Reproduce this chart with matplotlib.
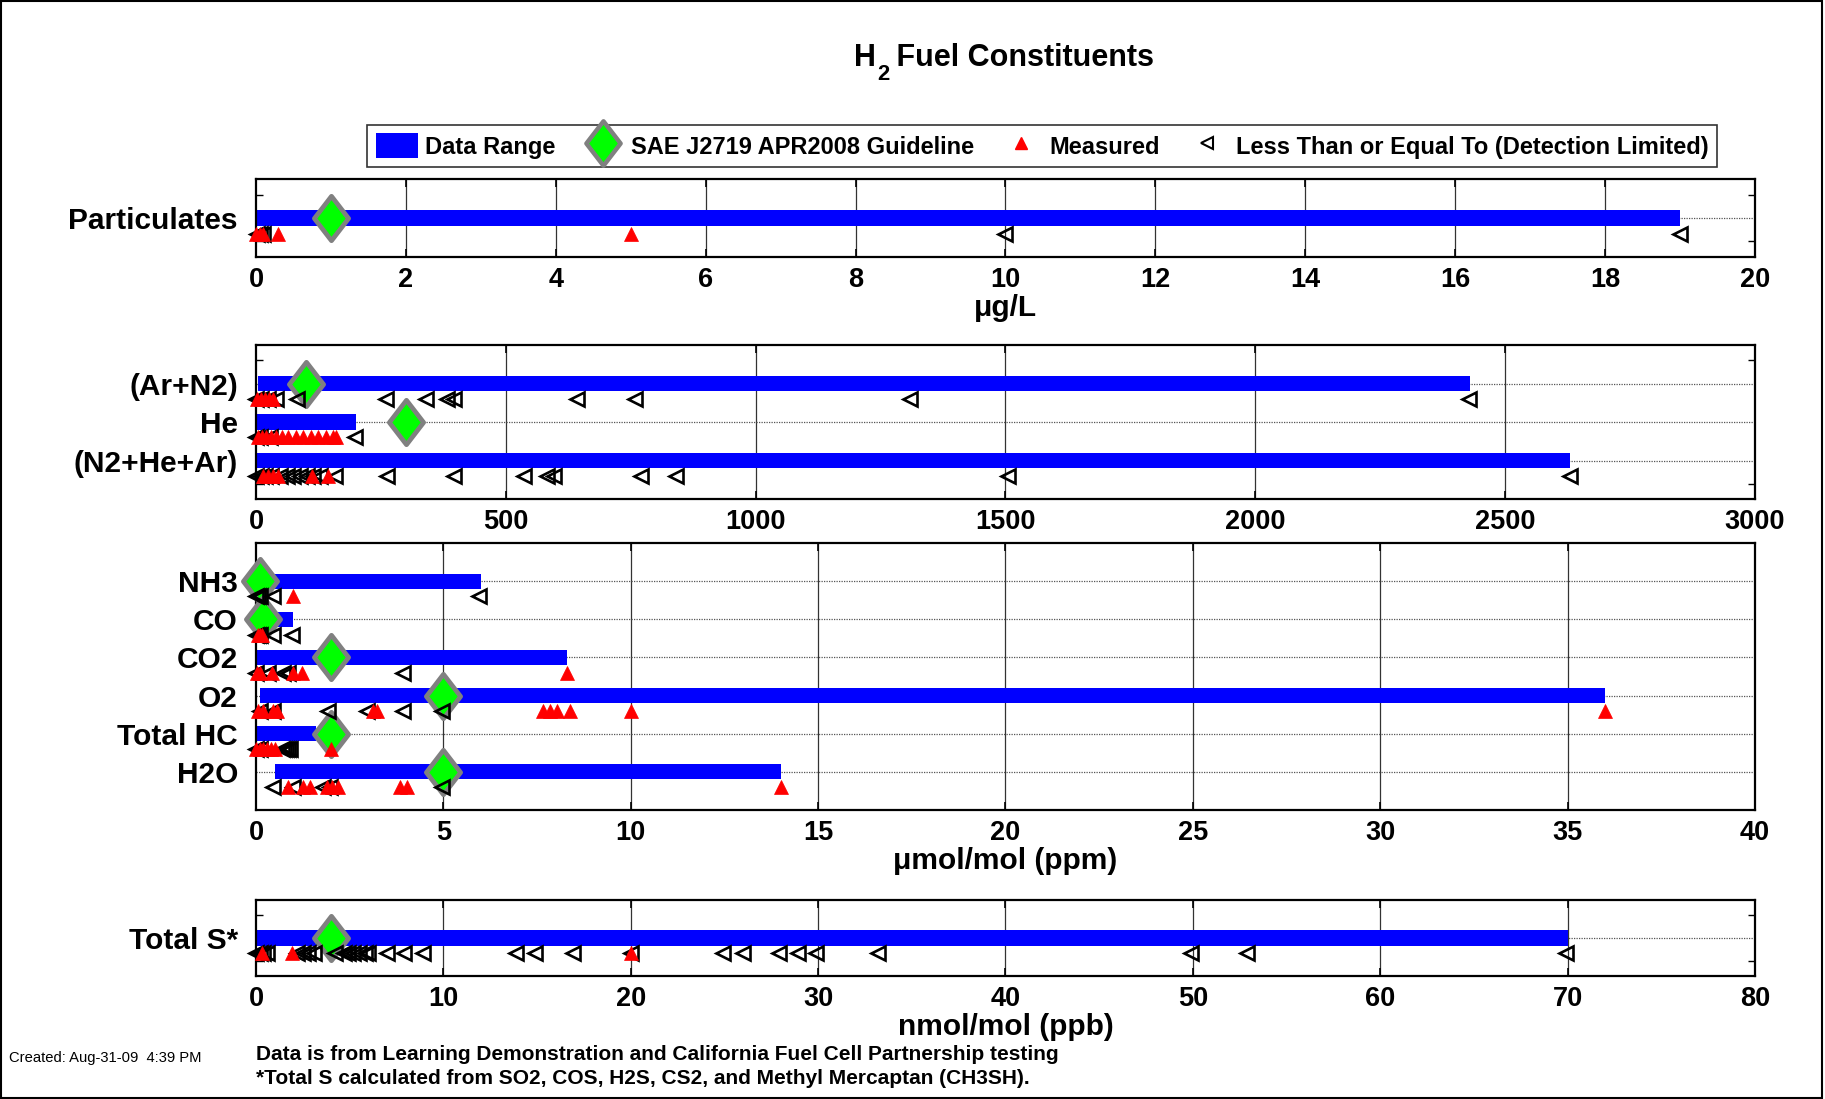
import numpy as np
import matplotlib
matplotlib.use("Agg")
import matplotlib.pyplot as plt
from matplotlib.lines import Line2D
from matplotlib.patches import Patch, Rectangle
from matplotlib.path import Path

plt.rcParams['font.family'] = ['Liberation Sans', 'DejaVu Sans']

# ---------------- data ----------------
part_cats = ['Particulates']
part_lo = [0.0]
part_hi = [19.0]
part_guide = [1.0]
part_meas = [[0.0, 0.05, 0.1, 0.3, 5.0]]
part_lt = [[0.02, 0.06, 0.1, 10.0, 19.0]]

inert_cats = ['(Ar+N2)', 'He', '(N2+He+Ar)']
inert_lo = [5, 0, 0]
inert_hi = [2430, 200, 2630]
inert_guide = [100, 300, np.nan]
inert_meas = [[2, 10, 18, 26, 34],
              [5, 12, 20, 30, 40, 52, 65, 80, 95, 110, 125, 140, 155, 160],
              [14, 24, 34, 44, 112, 144]]
inert_lt = [[0, 10, 25, 41, 83, 260, 340, 382, 396, 643, 758, 1309, 2428],
            [0, 8, 28, 198],
            [0, 10, 18, 30, 48, 62, 74, 88, 102, 115, 128, 158, 263, 396, 537,
             582, 597, 770, 841, 1506, 2630]]

gas_cats = ['NH3', 'CO', 'CO2', 'O2', 'Total HC', 'H2O']
gas_lo = [0, 0, 0, 0.1, 0, 0.5]
gas_hi = [6, 1, 8.3, 36, 1.6, 14]
gas_guide = [0.1, 0.2, 2, 5, 2, 5]
gas_meas = [[0.98],
            [0.05, 0.1, 0.15],
            [0.02, 0.1, 0.42, 1.0, 1.22, 8.3],
            [0.05, 0.2, 0.46, 0.55, 3.13, 3.22, 7.67, 7.85, 8.02, 8.38, 10, 36],
            [0.0, 0.1, 0.2, 0.3, 0.4, 0.5, 2.0],
            [0.86, 1.26, 1.44, 1.89, 2.02, 2.2, 3.84, 4.02, 14]]
gas_lt = [[0.0, 0.05, 0.1, 0.46, 5.95],
          [0.0, 0.05, 0.1, 0.46, 0.95],
          [0.0, 0.33, 0.73, 0.86, 3.93],
          [0.1, 0.46, 1.93, 2.95, 3.93, 4.95],
          [0.0, 0.1, 0.7, 0.75, 0.8, 0.85, 0.9],
          [0.46, 1.0, 1.8, 1.97, 4.95]]

s_cats = ['Total S*']
s_lo = [0]
s_hi = [70]
s_guide = [4]
s_meas = [[0.3, 1.9, 20]]
s_lt = [[0.0, 0.2, 0.4, 0.6, 2.2, 2.5, 2.8, 3.1, 4.2, 4.7, 4.9, 5.2, 5.5, 5.8,
         6.0, 7.0, 7.9, 8.9, 13.9, 14.9, 16.9, 20, 24.9, 26, 27.9, 28.9, 29.9,
         33.2, 49.9, 52.9, 69.9]]

x_ticks = [np.arange(0, 21, 2), np.arange(0, 3001, 500),
           np.arange(0, 41, 5), np.arange(0, 81, 10)]
x_labels = ['\u03bcg/L', '', '\u03bcmol/mol (ppm)', 'nmol/mol (ppb)']

legend_labels = ['Data Range', 'SAE J2719 APR2008 Guideline', 'Measured',
                 'Less Than or Equal To (Detection Limited)']

# ---------------- styling ----------------
W, H = 1825, 1099
fig = plt.figure(figsize=(W / 100, H / 100), dpi=100)

diamond = Path([(0, 1), (0.77, 0), (0, -1), (-0.77, 0), (0, 1)],
               [Path.MOVETO, Path.LINETO, Path.LINETO, Path.LINETO, Path.CLOSEPOLY])

BLUE = '#0000ff'
GREEN = '#00ff00'
GRAY = '#808080'

boxes = [(179, 257), (345, 499), (543, 810), (900, 976)]
left_px, right_px = 256, 1755
minor_y = [[0.4, 1.6], [0.4, 3.6], [4, 6], [0.4, 1.6]]

panels = [
    (part_cats, part_lo, part_hi, part_guide, part_meas, part_lt),
    (inert_cats, inert_lo, inert_hi, inert_guide, inert_meas, inert_lt),
    (gas_cats, gas_lo, gas_hi, gas_guide, gas_meas, gas_lt),
    (s_cats, s_lo, s_hi, s_guide, s_meas, s_lt),
]

for i, (cats, lo, hi, guide, meas, lt) in enumerate(panels):
    top, bot = boxes[i]
    ax = fig.add_axes([left_px / W, 1 - bot / H, (right_px - left_px) / W, (bot - top) / H])
    n = len(cats)
    ys = np.arange(1, n + 1)
    ax.set_ylim(n + 1, 0)
    ax.set_xlim(x_ticks[i][0], x_ticks[i][-1])
    lo = np.array(lo, dtype=float)
    hi = np.array(hi, dtype=float)
    ax.barh(ys, hi - lo, left=lo, height=0.4, color=BLUE, edgecolor='none', zorder=2)
    for j in range(n):
        if not np.isnan(guide[j]):
            ax.plot([guide[j]], [ys[j]], linestyle='none', marker=diamond, markersize=32,
                    markerfacecolor=GREEN, markeredgecolor=GRAY, markeredgewidth=3.4,
                    zorder=3, clip_on=False)
        ax.plot(lt[j], [ys[j] + 0.4] * len(lt[j]), linestyle='none', marker='<',
                markersize=9.5, markerfacecolor='none', markeredgecolor='k',
                markeredgewidth=1.9, zorder=4, clip_on=False)
        ax.plot(meas[j], [ys[j] + 0.4] * len(meas[j]), linestyle='none', marker='^',
                markersize=10.5, markerfacecolor='#ff0000', markeredgecolor='#ff0000',
                markeredgewidth=0.5, zorder=5, clip_on=False)
    for xv in x_ticks[i][1:-1]:
        ax.axvline(xv, color='#333333', lw=0.9, ls='-', zorder=1)
    for yv in ys:
        ax.axhline(yv, color='#555555', lw=0.9, ls=(0, (1, 1)), zorder=1)
    ax.set_xticks(x_ticks[i])
    ax.set_xticklabels([str(int(v)) for v in x_ticks[i]], fontsize=19.5, fontweight='bold')
    ax.set_yticks(ys)
    ax.set_yticklabels(cats, fontsize=21.5, fontweight='bold')
    ax.set_yticks(minor_y[i], minor=True)
    ax.tick_params(axis='y', which='major', length=0, pad=13)
    ax.tick_params(axis='y', which='minor', length=5, direction='in', left=True, right=True, width=1)
    ax.tick_params(axis='x', which='major', length=6, direction='in', top=True, bottom=True,
                   width=1.2, pad=7)
    for sp in ax.spines.values():
        sp.set_linewidth(1.6)
        sp.set_color('k')
    if x_labels[i]:
        ax.set_xlabel(x_labels[i], fontsize=21.5, fontweight='bold', labelpad=1)

# title: "H" + lowered "2" + " Fuel Constituents"
renderer = fig.canvas.get_renderer()
tsize = 22
base_y = 1 - 66 / H
sub_y = 1 - 80 / H
t1 = fig.text(0, base_y, 'H', fontsize=tsize, fontweight='bold', ha='left', va='baseline')
t2 = fig.text(0, sub_y, '2', fontsize=tsize * 0.72, fontweight='bold', ha='left', va='baseline')
t3 = fig.text(0, base_y, ' Fuel Constituents', fontsize=tsize, fontweight='bold', ha='left', va='baseline')
w1 = t1.get_window_extent(renderer).width
w2 = t2.get_window_extent(renderer).width
w3 = t3.get_window_extent(renderer).width
total = w1 + w2 + w3
x0 = 1004 - total / 2
t1.set_x(x0 / W)
t2.set_x((x0 + w1 + 1) / W)
t3.set_x((x0 + w1 + w2) / W)

# legend
handles = [
    Patch(facecolor=BLUE, edgecolor='none'),
    Line2D([], [], linestyle='none', marker=diamond, markersize=32, markerfacecolor=GREEN,
           markeredgecolor=GRAY, markeredgewidth=3.2),
    Line2D([], [], linestyle='none', marker='^', markersize=9, markerfacecolor='#ff0000',
           markeredgecolor='#ff0000'),
    Line2D([], [], linestyle='none', marker='<', markersize=9, markerfacecolor='none',
           markeredgecolor='k', markeredgewidth=1.5),
]
leg = fig.legend(handles, legend_labels, loc='center', bbox_to_anchor=(1042 / W, 1 - 146 / H),
                 ncol=4, frameon=True, fancybox=False, edgecolor='k',
                 prop={'size': 17, 'weight': 'bold'}, handlelength=1.8, handleheight=1.2,
                 handletextpad=0.3, columnspacing=1.1, borderpad=0.35)
leg.get_frame().set_linewidth(1.2)

# footer
fig.text(9 / W, 1 - 1058 / H, 'Created: Aug-31-09  4:39 PM', ha='left', va='center', fontsize=10.6)
fig.text(256 / W, 1 - 1055 / H,
         'Data is from Learning Demonstration and California Fuel Cell Partnership testing',
         ha='left', va='center', fontsize=15, fontweight='bold')
fig.text(256 / W, 1 - 1079 / H,
         '*Total S calculated from SO2, COS, H2S, CS2, and Methyl Mercaptan (CH3SH).',
         ha='left', va='center', fontsize=15, fontweight='bold')

fig.patches.append(Rectangle((0.0008, 0.001), 0.9975, 0.998, transform=fig.transFigure,
                             fill=False, edgecolor='k', linewidth=1.5))

fig.savefig('out.png', dpi=100, facecolor='white')
